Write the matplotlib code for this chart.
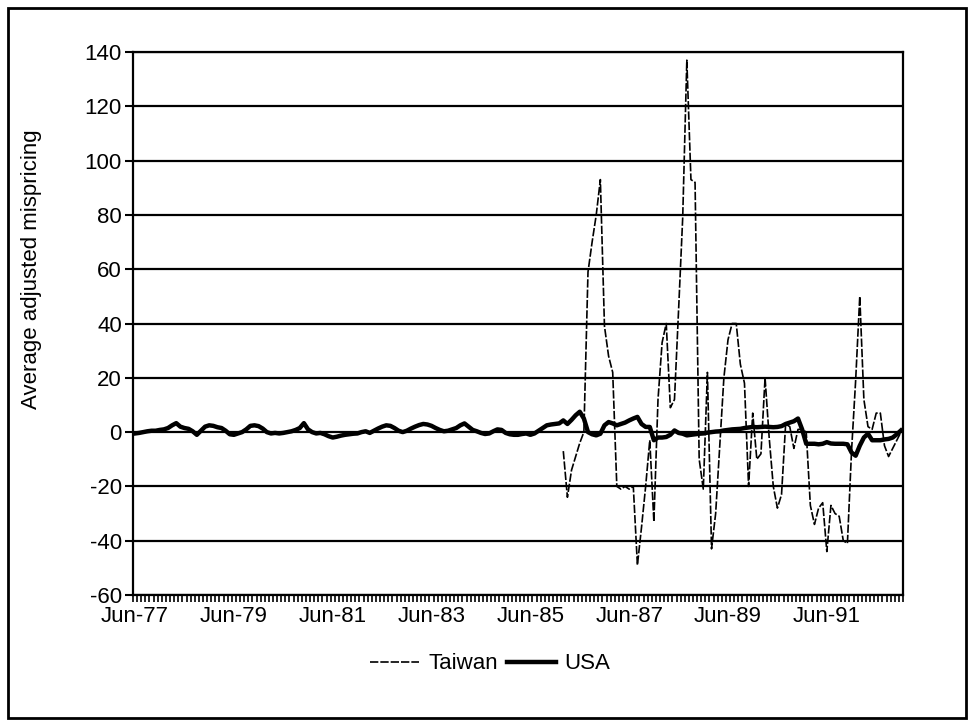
import numpy as np
import pandas as pd
import matplotlib
matplotlib.use('Agg')
import matplotlib.pyplot as plt
from matplotlib.patches import Rectangle

plt.rcParams['font.family'] = ['Liberation Sans', 'DejaVu Sans']
plt.rcParams['axes.unicode_minus'] = False

# monthly observations, Jun-77 .. Dec-92
months = pd.date_range('1977-06-01', '1992-12-01', freq='MS')

usa = [
    -0.5, -0.3, 0.0, 0.3, 0.5, 0.5, 0.8, 1.0, 1.5, 2.5, 3.3, 2.0,      # Jun-77
    1.5, 1.2, 0.3, -1.0, 0.5, 2.0, 2.5, 2.3, 1.8, 1.5, 0.5, -0.8,      # Jun-78
    -1.0, -0.5, 0.0, 1.0, 2.3, 2.5, 2.2, 1.3, 0.0, -0.5, -0.3, -0.5,   # Jun-79
    -0.3, 0.0, 0.3, 0.8, 1.5, 3.3, 1.0, 0.0, -0.5, -0.3, -0.8, -1.5,   # Jun-80
    -2.0, -1.7, -1.3, -1.0, -0.8, -0.6, -0.5, 0.0, 0.3, -0.3, 0.5, 1.3, # Jun-81
    2.0, 2.5, 2.3, 1.5, 0.5, 0.0, 0.5, 1.3, 2.0, 2.6, 3.0, 2.8,        # Jun-82
    2.3, 1.5, 0.8, 0.3, 0.5, 1.0, 1.5, 2.5, 3.2, 2.0, 0.8, 0.3,        # Jun-83
    -0.3, -0.7, -0.5, 0.3, 1.0, 0.8, -0.3, -0.8, -1.0, -1.0, -0.7, -0.5, # Jun-84
    -1.0, -0.5, 0.5, 1.5, 2.5, 2.8, 3.0, 3.2, 4.3, 3.0, 4.5, 6.2,      # Jun-85
    7.5, 5.0, 0.0, -0.8, -1.2, -0.6, 2.5, 3.7, 3.2, 2.5, 3.0, 3.5,     # Jun-86
    4.3, 5.0, 5.6, 3.0, 1.9, 1.9, -3.0, -2.0, -2.0, -1.8, -1.0, 0.6,   # Jun-87
    -0.3, -0.6, -1.2, -1.0, -0.8, -0.6, -0.5, -0.2, 0.0, 0.2, 0.3, 0.6, # Jun-88
    0.8, 1.0, 1.1, 1.2, 1.5, 1.7, 1.9, 1.8, 1.9, 2.0, 1.9, 1.8,        # Jun-89
    1.9, 2.2, 3.0, 3.5, 4.0, 5.0, 1.0, -4.3, -4.3, -4.3, -4.5, -4.3,   # Jun-90
    -3.7, -4.2, -4.3, -4.3, -4.3, -4.5, -7.5, -8.7, -5.0, -2.0, -0.6, -3.0, # Jun-91
    -3.0, -3.0, -2.7, -2.5, -2.0, -0.8, 0.6,                           # Jun-92
]

# Taiwan series begins Feb-86
taiwan_start = '1986-02-01'
taiwan = [
    -7, -24, -14, -9, -4,                                  # Feb-86
    0, 59, 70, 80, 93, 39, 28, 22, -20, -21, -20, -21,     # Jul-86
    -20, -49, -35, -20, -3, -33, 12, 33, 40, 9, 12, 45,    # Jul-87
    79, 137, 93, 92, -10, -21, 22, -43, -30, -5, 20, 34,   # Jul-88
    40, 40, 25, 18, -20, 7, -10, -8, 20, -2, -20, -28,     # Jul-89
    -23, 3, 2, -6, 1, 1, 0, -27, -34, -28, -26, -44,       # Jul-90
    -27, -30, -31, -40, -41, -7, 19, 50, 12, 2, 1, 7,      # Jul-91
    7, -5, -9, -6, -3, 0,                                  # Jul-92
]

x = np.arange(len(months))
t0 = months.get_loc(pd.Timestamp(taiwan_start))
x_tw = np.arange(t0, t0 + len(taiwan))

fig = plt.figure(figsize=(9.73, 7.28), dpi=100)
ax = fig.add_axes([133 / 973, 1 - 595 / 728, 770 / 973, 543 / 728])

for v in range(-60, 141, 20):
    ax.axhline(v, color='black', lw=1.6, zorder=1)

ax.plot(x_tw, taiwan, color='black', lw=1.2, dashes=(5, 1.2), label='Taiwan', zorder=3)
ax.plot(x, usa, color='black', lw=3.2, solid_joinstyle='round', label='USA', zorder=2)

ax.set_xlim(-0.5, len(months) - 0.5)
ax.set_ylim(-60, 140)
ax.set_yticks(range(-60, 141, 20))

lab_idx = x[::24]
ax.set_xticks(lab_idx)
ax.set_xticklabels([months[i].strftime('%b-%y') for i in lab_idx])
ax.set_xticks(np.arange(len(months) + 1) - 0.5, minor=True)
ax.tick_params(axis='x', which='major', length=0, pad=8, labelsize=16)
ax.tick_params(axis='x', which='minor', length=5, width=1.2, direction='out')
ax.tick_params(axis='y', length=6, width=1.5, direction='out', labelsize=16, pad=2)

for s in ax.spines.values():
    s.set_linewidth(1.6)

ax.set_ylabel('Average adjusted mispricing', fontsize=16)
ax.yaxis.set_label_coords(-0.118, 0.6)

fig.legend(loc='center', bbox_to_anchor=(0.504, 0.088), ncol=2, frameon=False,
           fontsize=16, handlelength=2.2, columnspacing=0.4, handletextpad=0.4)

fig.add_artist(Rectangle((8 / 973, 1 - 718 / 728), 958 / 973, 710 / 728,
                         transform=fig.transFigure, fill=False, lw=2, ec='black'))

fig.savefig('out.png', dpi=100)
